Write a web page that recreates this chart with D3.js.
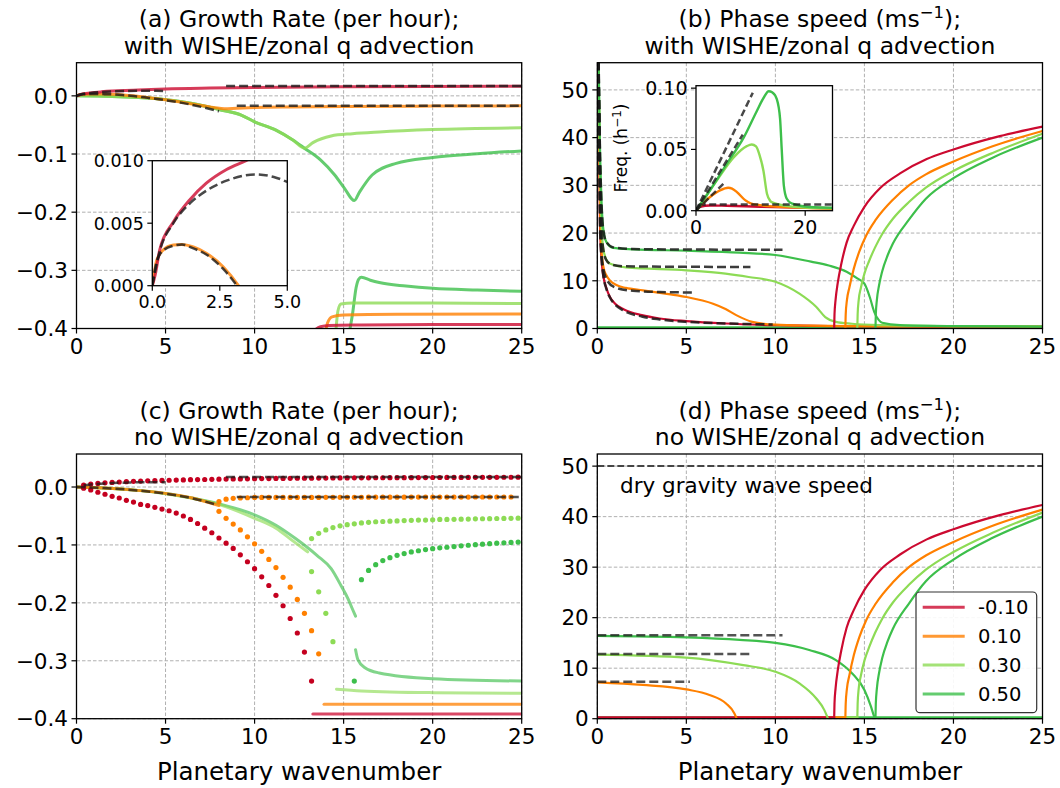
<!DOCTYPE html>
<html>
<head>
<meta charset="utf-8">
<script src="https://cdn.jsdelivr.net/npm/d3@7/dist/d3.min.js"></script>
<style>
  body { margin: 0; background: #fff; }
  svg { font-family: "DejaVu Sans", sans-serif; }
</style>
</head>
<body>
<div id="chart"></div>
<script>
// ---------- data ----------
var kTicks = [0, 5, 10, 15, 20, 25];
var growthTicks = [0, -0.1, -0.2, -0.3, -0.4];
var speedTicks = [0, 10, 20, 30, 40, 50];
var legendLabel = ["-0.10", "0.10", "0.30", "0.50"];
var colors = ["#cc0a30", "#ff8000", "#8ddb55", "#3dbf4b"];
var titles = [
  ["(a) Growth Rate (per hour);", "with WISHE/zonal q advection"],
  ["(b) Phase speed (ms^{\u22121});", "with WISHE/zonal q advection"],
  ["(c) Growth Rate (per hour);", "no WISHE/zonal q advection"],
  ["(d) Phase speed (ms^{\u22121});", "no WISHE/zonal q advection"]
];

// (a) growth rate, with WISHE  [wavenumber, 1/h]
var aRedUpper = [[0,0],[0.1,0.0008],[0.28,0.0029],[0.78,0.0051],[1.4,0.0069],[2,0.0082],[2.75,0.0093],[3.47,0.0100],[5,0.0118],[7.5,0.0133],[10,0.0143],[15,0.0155],[20,0.0162],[25,0.0167]];
var aOrangeUpper = [[0,0],[0.05,0.0007],[0.16,0.002],[0.4,0.00285],[0.78,0.00325],[1.09,0.0033],[1.52,0.0031],[2,0.0026],[2.63,0.0015],[3.19,0],[4,-0.003],[5,-0.0068],[6,-0.0115],[7,-0.0165],[7.8,-0.0205],[8.3,-0.022],[9,-0.0212],[10,-0.0202],[12,-0.0192],[15,-0.0183],[20,-0.0176],[25,-0.0172]];
var aLightUpper = [[0,0],[2,-0.001],[3.5,-0.003],[5,-0.0065],[6.5,-0.013],[8,-0.0235],[9.25,-0.033],[10,-0.0447],[11.2,-0.059],[12.15,-0.076],[12.8,-0.090],[13.3,-0.080],[14.3,-0.069],[15.5,-0.065],[17,-0.062],[20,-0.058],[25,-0.055]];
var aGreenUpper = [[0,0],[2,-0.001],[3.5,-0.003],[5,-0.0065],[6.5,-0.013],[8,-0.0235],[9.25,-0.033],[10,-0.0447],[11.2,-0.059],[12.15,-0.076],[12.8,-0.090],[13.7,-0.11],[14.5,-0.136],[15.05,-0.159],[15.6,-0.18],[15.9,-0.165],[16.6,-0.136],[17.95,-0.116],[20,-0.106],[22.5,-0.0995],[25,-0.0946]];
var aRedLower = [[13.4,-0.402],[13.7,-0.397],[14.2,-0.395],[16,-0.394],[20,-0.393],[25,-0.393]];
var aOrangeLower = [[13.95,-0.41],[14.1,-0.39],[14.35,-0.38],[15,-0.377],[18,-0.3755],[25,-0.375]];
var aLightLower = [[14.55,-0.41],[14.68,-0.37],[14.85,-0.358],[15.5,-0.356],[20,-0.356],[25,-0.357]];
var aGreenLower = [[15.3,-0.41],[15.5,-0.375],[15.7,-0.33],[15.85,-0.315],[16,-0.312],[16.5,-0.317],[17,-0.321],[18.5,-0.327],[20,-0.331],[22.5,-0.334],[25,-0.336]];
var aDashRedSmall = [[0,0],[0.28,0.0028],[0.78,0.005],[1.4,0.0066],[2,0.0076],[2.75,0.0084],[3.8,0.0089],[4.5,0.0087],[5,0.0083]];
var aDashRedFar = [[8.4,0.017],[25,0.017]];
var aDashOrange = [[0,0],[0.16,0.0019],[0.4,0.0028],[0.78,0.0032],[1.1,0.0033],[1.5,0.003],[2,0.0025],[2.6,0.0014],[3.2,-0.0002],[4,-0.0033],[5,-0.0075],[6,-0.0125],[7,-0.019],[8,-0.0265]];
var aDashOrangeFar = [[9,-0.017],[25,-0.017]];

// (b) phase speed, with WISHE  [wavenumber, m/s]
var bRed = [[0.06,56],[0.1,40],[0.15,22],[0.25,14],[0.34,11],[0.5,8.6],[0.71,6.6],[1,5.2],[1.5,4.0],[2.5,2.8],[3.5,2.1],[5,1.55],[7.2,1.05],[10,0.7],[13,0.5],[16,0.42],[25,0.38]];
var bOrange = [[0.06,56],[0.1,45],[0.13,33],[0.22,17],[0.35,12.8],[0.5,11.2],[0.75,9.9],[1.07,9.1],[1.6,8.5],[2.56,8.0],[4,7.2],[5,6.6],[6.5,5.2],[7.2,4.1],[7.8,2.8],[8.7,1.4],[10,0.8],[12,0.6],[14,0.5],[20,0.45],[25,0.4]];
var bLight = [[0.06,56],[0.1,47],[0.14,36],[0.2,26],[0.32,17.1],[0.5,14.5],[0.7,13.6],[1.6,12.8],[5,12.2],[7.2,11.5],[8.5,10.8],[10,9.8],[11.35,7.3],[12.3,4.5],[12.8,2.4],[13.4,1.4],[14.3,1.0],[16,0.7],[20,0.5],[25,0.4]];
var bGreen = [[0.06,56],[0.09,52.8],[0.13,42],[0.22,28.4],[0.32,21.4],[0.5,18.2],[0.88,16.9],[2,16.6],[5,16.3],[8,15.9],[10,15.4],[12,14.0],[13,13.2],[14,11.9],[14.6,10.5],[15,9.4],[15.3,6.6],[15.55,3.5],[15.8,1.8],[16,1.2],[17,0.7],[20,0.5],[25,0.4]];
var bZero = [[0,0.25],[25,0.25]];
var bDashRed = [[0.06,56],[0.1,40],[0.15,22],[0.25,14],[0.34,11],[0.5,8.4],[0.71,6.5],[1,5.0],[1.5,3.7],[2.5,2.5],[3.5,1.9],[5,1.4],[7.2,1.05],[9.85,0.85]];
var bDashOrange = [[0.06,56],[0.1,45],[0.13,33],[0.22,17],[0.35,12.3],[0.6,9.8],[1,8.6],[2,7.9],[3.5,7.65],[5.4,7.55]];
var bDashLight = [[0.06,56],[0.1,47],[0.14,36],[0.2,26],[0.32,17],[0.5,14.4],[0.8,13.4],[1.5,13.05],[4,12.95],[8.6,12.9]];
var bDashGreen = [[0.06,56],[0.09,52.5],[0.13,41.5],[0.22,28],[0.32,21.2],[0.5,18.2],[0.9,17],[2,16.65],[5,16.55],[10.4,16.5]];
// rising (fast) branches, same in (b) and (d)
var riseRed = [[13.3,0],[13.32,3],[13.38,6],[13.5,9.5],[13.7,13.5],[14,18],[14.4,21.5],[15,25.5],[15.9,29.5],[17,32.5],[18.5,35.5],[20,37.5],[22.6,40.3],[25,42.3]];
var riseOrange = [[13.93,0],[13.95,3],[14.02,6],[14.15,8.5],[14.4,12.5],[14.7,16],[15.1,19.5],[15.64,22.8],[16.6,27],[17.5,30],[18.45,32.3],[20,35],[22.2,38.2],[25,41.4]];
var riseLight = [[14.6,0],[14.62,3],[14.68,6],[14.8,8.5],[15,11.5],[15.27,14.2],[15.6,17],[16,19.8],[16.6,23],[17.5,26.5],[18.45,29.5],[20,33],[22.2,36.8],[25,40.8]];
var riseGreen = [[15.62,0],[15.64,3],[15.7,6],[15.82,9],[16,12],[16.3,15.3],[16.6,17.8],[17.5,22.8],[18.45,27.2],[20,31.5],[22.2,35.8],[25,40]];

// (b) inset: frequency [wavenumber, 1/h]
var fRed = [[0,0],[0.4,0.0025],[0.73,0.0032],[2.57,0.0043],[5.6,0.004],[11.7,0.0032],[25,0.002]];
var fOrange = [[0,0],[1,0.005],[2.57,0.0112],[4.4,0.0166],[5.9,0.0187],[6.6,0.018],[7.5,0.0152],[9,0.0086],[10,0.006],[11.7,0.0045],[17.9,0.0027],[25,0.0016]];
var fLight = [[0,0],[3.8,0.0246],[6.85,0.0433],[9.3,0.0527],[10.2,0.054],[11,0.0525],[11.6,0.046],[12.35,0.0326],[13,0.0139],[13.6,0.008],[14.2,0.0064],[17.9,0.0032],[25,0.0019]];
var fGreen = [[0,0],[2.57,0.0166],[5.6,0.038],[8.7,0.0594],[11.1,0.081],[12.5,0.093],[13.3,0.0975],[14,0.0965],[14.8,0.091],[15.4,0.075],[15.7,0.05],[16.1,0.02],[16.6,0.01],[17.5,0.006],[20.9,0.003],[25,0.0024]];
var fDashRed = [[0.5,0.0051],[25,0.0051]];
var fDashOrange = [[0,0],[5,0.0219]];
var fDashLight = [[0,0],[8.56,0.062]];
var fDashGreen = [[0,0],[10.4,0.0963]];

// (c) growth rate, no WISHE: dots every 0.4 in wavenumber
var dotStep = 0.4;
var cRedUpperStart = 0.4;
var cRedUpper = [0.0035,0.005,0.0062,0.0072,0.008,0.0087,0.0093,0.0098,0.0103,0.0107,0.011,0.0114,0.0117,0.012,0.0123,0.0126,0.0128,0.013,0.0133,0.0135,0.0137,0.0139,0.014,0.0142,0.0143,
  0.0145,0.0146,0.0148,0.0149,0.015,0.0151,0.0152,0.0153,0.0154,0.0155,
  0.0156,0.0157,0.0157,0.0158,0.0159,0.0159,0.016,0.016,0.0161,0.0161,0.0162,0.0162,0.0163,0.0163,0.0164,
  0.0164,0.0165,0.0165,0.0166,0.0166,0.0167,0.0167,0.0168,0.0168,0.0169,0.0169,0.017];
var cRedLowerStart = 0.4;
var cRedLower = [-0.002,-0.005,-0.009,-0.0125,-0.016,-0.019,-0.023,-0.026,-0.03,-0.032,-0.035,-0.038,-0.041,-0.045,-0.05,-0.056,-0.063,-0.071,-0.079,-0.088,-0.097,-0.106,-0.117,-0.129,-0.141,-0.155,-0.17,-0.187,-0.205,-0.227,-0.252,-0.285,-0.335];
var cOrangeUpperStart = 8.0;
var cOrangeUpper = [-0.025,-0.021,-0.0195,-0.019,-0.0185,
  -0.018,-0.018,-0.018,-0.018,-0.018,-0.018,-0.018,-0.018,-0.018,-0.018,
  -0.0178,-0.0178,-0.0178,-0.0177,-0.0177,-0.0177,-0.0176,-0.0176,-0.0176,-0.0175,-0.0175,-0.0175,-0.0174,-0.0174,
  -0.0174,-0.0174,-0.0173,-0.0173,-0.0173,-0.0173,-0.0173,-0.0172,-0.0172,-0.0172,-0.0172,-0.0172,-0.0172];
var cOrangeLowerStart = 8.0;
var cOrangeLower = [-0.042,-0.054,-0.064,-0.074,-0.086,-0.098,-0.111,-0.125,-0.139,-0.156,-0.173,-0.194,-0.218,-0.248,-0.288];
var cLightUpperStart = 13.2;
var cLightUpper = [-0.089,-0.080,-0.074,-0.070,-0.067,-0.065,-0.0635,-0.062,-0.061,-0.060,
  -0.0595,-0.059,-0.0585,-0.058,-0.0575,-0.057,-0.057,-0.0565,-0.056,-0.056,
  -0.0557,-0.0555,-0.0553,-0.055,-0.0548,-0.0546,-0.0544,-0.0542,-0.054,-0.0538];
var cLightLowerStart = 13.2;
var cLightLower = [-0.146,-0.181,-0.218,-0.267];
var cGreenUpperStart = 16.0;
var cGreenUpper = [-0.160,-0.144,-0.134,-0.127,-0.122,-0.118,-0.115,-0.112,-0.110,-0.108,-0.1065,-0.105,-0.104,-0.1028,-0.1016,-0.1005,-0.0995,-0.0986,-0.0978,-0.097,-0.0963,-0.0957,-0.095];
var cGreenLoneStart = 15.6;
var cGreenLone = [-0.335];
// (c) solid pieces
var cOrangeLine = [[0,0],[1.5,-0.0017],[3.44,-0.0058],[5,-0.011],[6.5,-0.019],[8,-0.032]];
var cLightLine = [[0,0],[1.5,-0.0017],[3.44,-0.0058],[5,-0.0116],[6.5,-0.0195],[8.1,-0.031],[10,-0.054],[11.2,-0.071],[12.15,-0.093],[12.98,-0.112]];
var cGreenLine = [[0,0],[1.5,-0.0017],[3.44,-0.0058],[5,-0.011],[6.5,-0.019],[8,-0.029],[10,-0.048],[11.2,-0.066],[12.3,-0.089],[13.5,-0.118],[14.3,-0.141],[14.85,-0.17],[15.25,-0.193],[15.5,-0.211],[15.67,-0.223]];
var cGreenLow = [[15.67,-0.281],[15.8,-0.298],[16.2,-0.312],[17,-0.321],[20,-0.331],[25,-0.335]];
var cLightLow = [[14.6,-0.349],[16,-0.352],[20,-0.355],[25,-0.356]];
var cOrangeLow = [[13.9,-0.375],[25,-0.375]];
var cRedLow = [[13.27,-0.392],[25,-0.392]];
var cDashRedSmall = [[0.4,0.003],[1,0.005],[2,0.0068],[3,0.0078],[4,0.0083],[5,0.0084]];
var cDashRedFar = [[8.4,0.0172],[25,0.0172]];
var cDashOrange = [[0,0],[1.5,-0.0017],[3.44,-0.006],[5,-0.0115],[6.5,-0.0195],[7.9,-0.031]];
var cDashOrangeFar = [[9,-0.0172],[25,-0.0172]];

// (d) phase speed, no WISHE
var dOrange = [[0,7.2],[2.56,6.7],[5,5.8],[6.3,4.7],[7.23,3.0],[7.7,1.05],[7.83,0]];
var dLight = [[0,12.7],[5,12.1],[8.2,10.6],[10,9.3],[11.35,7.0],[12.3,4.0],[12.75,1.7],[12.93,0.2],[12.95,0]];
var dGreen = [[0,16.4],[5,16.1],[8,15.6],[10,15.0],[11.9,13.6],[13.4,11.6],[14.3,9.0],[15,5.7],[15.37,2.4],[15.55,0.4],[15.6,0]];
var dZeroGreen = [[0,0.25],[25,0.25]];
var dZeroLight = [[12.9,0.25],[14.6,0.25]];
var dZeroOrange = [[7.8,0.25],[13.9,0.25]];
var dZeroRed = [[0,0.25],[13.3,0.25]];
var dDashGreen = [[0,16.5],[10.4,16.5]];
var dDashLight = [[0,12.8],[8.6,12.8]];
var dDashOrange = [[0,7.3],[5.2,7.3]];
var dDry = [[0,50],[25,50]];

// ---------- drawing ----------
var svg = d3.select("#chart").append("svg").attr("width", 1060).attr("height", 788);
var tickLen = 5, fs = 21.5, titleFs = 23.5, labelFs = 24.5;
var dashCol = "#1a1a1a";

function makePanel(id, box, xDom, yDom) {
  var p = { id: id, box: box };
  p.x = d3.scaleLinear().domain(xDom).range([box.l, box.r]);
  p.y = d3.scaleLinear().domain(yDom).range([box.b, box.t]);
  svg.append("clipPath").attr("id", "clip-" + id).append("rect")
    .attr("x", box.l).attr("y", box.t).attr("width", box.r - box.l).attr("height", box.b - box.t);
  p.g = svg.append("g");
  return p;
}

function drawGrid(p, xt, yt) {
  var g = p.g.append("g").attr("stroke", "#b0b0b0").attr("stroke-width", 1).attr("stroke-dasharray", "3.5,2");
  g.selectAll("line.gx").data(xt).enter().append("line").attr("class", "gx")
    .attr("x1", function (d) { return p.x(d); }).attr("x2", function (d) { return p.x(d); })
    .attr("y1", p.box.t).attr("y2", p.box.b);
  g.selectAll("line.gy").data(yt).enter().append("line").attr("class", "gy")
    .attr("y1", function (d) { return p.y(d); }).attr("y2", function (d) { return p.y(d); })
    .attr("x1", p.box.l).attr("x2", p.box.r);
}

function layer(p) {
  return p.g.append("g").attr("clip-path", "url(#clip-" + p.id + ")");
}

function addLine(p, L, data, color, w, op, dash) {
  var line = d3.line()
    .x(function (d) { return p.x(d[0]); })
    .y(function (d) { return p.y(d[1]); })
    .curve(d3.curveMonotoneX);
  L.append("path").datum(data).attr("d", line)
    .attr("fill", "none").attr("stroke", color).attr("stroke-width", w)
    .attr("stroke-opacity", op)
    .attr("stroke-dasharray", dash || null)
    .attr("stroke-linejoin", "round")
    .attr("stroke-linecap", dash ? "butt" : "round");
}

function addDots(p, L, start, values, color) {
  L.selectAll(null).data(values).enter().append("circle")
    .attr("cx", function (d, i) { return p.x(start + dotStep * i); })
    .attr("cy", function (d) { return p.y(d); })
    .attr("r", 2.6).attr("fill", color);
}

function drawAxes(p, xt, yt, xf, yf, size) {
  var g = p.g.append("g");
  g.append("rect").attr("x", p.box.l).attr("y", p.box.t)
    .attr("width", p.box.r - p.box.l).attr("height", p.box.b - p.box.t)
    .attr("fill", "none").attr("stroke", "#000").attr("stroke-width", 1.3);
  g.selectAll("line.tx").data(xt).enter().append("line").attr("class", "tx")
    .attr("x1", function (d) { return p.x(d); }).attr("x2", function (d) { return p.x(d); })
    .attr("y1", p.box.b).attr("y2", p.box.b + tickLen).attr("stroke", "#000").attr("stroke-width", 1.2);
  g.selectAll("text.lx").data(xt).enter().append("text").attr("class", "lx")
    .attr("x", function (d) { return p.x(d); }).attr("y", p.box.b + tickLen + 3.5)
    .attr("dy", "0.78em").attr("text-anchor", "middle").attr("font-size", size)
    .text(xf);
  g.selectAll("line.ty").data(yt).enter().append("line").attr("class", "ty")
    .attr("y1", function (d) { return p.y(d); }).attr("y2", function (d) { return p.y(d); })
    .attr("x1", p.box.l).attr("x2", p.box.l - tickLen).attr("stroke", "#000").attr("stroke-width", 1.2);
  g.selectAll("text.ly").data(yt).enter().append("text").attr("class", "ly")
    .attr("x", p.box.l - tickLen - 3.5).attr("y", function (d) { return p.y(d); })
    .attr("dy", "0.36em").attr("text-anchor", "end").attr("font-size", size)
    .text(yf);
}

function drawTitle(box, lines, base1) {
  var cx = (box.l + box.r) / 2;
  lines.forEach(function (s, i) {
    var t = svg.append("text").attr("x", cx).attr("y", base1 + i * 26.5)
      .attr("text-anchor", "middle").attr("font-size", titleFs);
    var m = s.match(/^(.*)\^\{(.*)\}(.*)$/);
    if (m) {
      t.append("tspan").text(m[1]);
      t.append("tspan").attr("dy", -9).attr("font-size", 16.5).text(m[2]);
      t.append("tspan").attr("dy", 9).text(m[3]);
    } else {
      t.text(s);
    }
  });
}

function inset(id, box, xDom, yDom) {
  svg.append("rect").attr("x", box.l).attr("y", box.t)
    .attr("width", box.r - box.l).attr("height", box.b - box.t).attr("fill", "#fff");
  return makePanel(id, box, xDom, yDom);
}

var fmtK = d3.format("d"), fmtG = d3.format(".1f"), fmtS = d3.format("d");

var boxA = { l: 76.5, r: 521.7, t: 62.7, b: 328.5 };
var boxB = { l: 597.3, r: 1042.5, t: 62.7, b: 328.5 };
var boxC = { l: 76.5, r: 521.7, t: 454, b: 718.7 };
var boxD = { l: 597.3, r: 1042.5, t: 454, b: 718.7 };

// ----- (a)
var pA = makePanel("a", boxA, [0, 25], [-0.4, 0.057]);
drawGrid(pA, kTicks, growthTicks);
var LA = layer(pA);
addLine(pA, LA, aGreenUpper, colors[3], 3, 0.8);
addLine(pA, LA, aLightUpper, colors[2], 3, 0.8);
addLine(pA, LA, aOrangeUpper, colors[1], 3, 0.8);
addLine(pA, LA, aRedUpper, colors[0], 3, 0.8);
addLine(pA, LA, aGreenLower, colors[3], 3, 0.8);
addLine(pA, LA, aLightLower, colors[2], 3, 0.8);
addLine(pA, LA, aOrangeLower, colors[1], 3, 0.8);
addLine(pA, LA, aRedLower, colors[0], 3, 0.8);
[aDashRedSmall, aDashRedFar, aDashOrange, aDashOrangeFar].forEach(function (d) {
  addLine(pA, LA, d, dashCol, 2.5, 0.8, "9,4");
});
drawAxes(pA, kTicks, growthTicks, fmtK, fmtG, fs);
drawTitle(boxA, titles[0], 27);

var pAi = inset("ai", { l: 152.3, r: 287.3, t: 160.7, b: 285.7 }, [0, 5], [0, 0.01]);
var LAi = layer(pAi);
addLine(pAi, LAi, aOrangeUpper, colors[1], 3, 0.8);
addLine(pAi, LAi, aRedUpper, colors[0], 3, 0.8);
addLine(pAi, LAi, aDashRedSmall, dashCol, 2.5, 0.8, "9,4");
addLine(pAi, LAi, aDashOrange, dashCol, 2.5, 0.8, "9,4");
drawAxes(pAi, [0, 2.5, 5], [0, 0.005, 0.01], d3.format(".1f"), d3.format(".3f"), 17.5);

// ----- (b)
var pB = makePanel("b", boxB, [0, 25], [0, 55.7]);
drawGrid(pB, kTicks, speedTicks);
var LB = layer(pB);
addLine(pB, LB, bZero, colors[3], 2.2, 1);
addLine(pB, LB, bRed, colors[0], 2.2, 1);
addLine(pB, LB, bOrange, colors[1], 2.2, 1);
addLine(pB, LB, bLight, colors[2], 2.2, 1);
addLine(pB, LB, bGreen, colors[3], 2.2, 1);
addLine(pB, LB, riseRed, colors[0], 2.2, 1);
addLine(pB, LB, riseOrange, colors[1], 2.2, 1);
addLine(pB, LB, riseLight, colors[2], 2.2, 1);
addLine(pB, LB, riseGreen, colors[3], 2.2, 1);
[bDashRed, bDashOrange, bDashLight, bDashGreen].forEach(function (d) {
  addLine(pB, LB, d, dashCol, 2.5, 0.85, "9,4");
});
drawAxes(pB, kTicks, speedTicks, fmtK, fmtS, fs);
drawTitle(boxB, titles[1], 27);

var pBi = inset("bi", { l: 696, r: 832.5, t: 85.7, b: 210.7 }, [0, 25], [0, 0.102]);
var LBi = layer(pBi);
addLine(pBi, LBi, fRed, colors[0], 2.4, 1);
addLine(pBi, LBi, fOrange, colors[1], 2.4, 1);
addLine(pBi, LBi, fLight, colors[2], 2.4, 1);
addLine(pBi, LBi, fGreen, colors[3], 2.4, 1);
[fDashRed, fDashOrange, fDashLight, fDashGreen].forEach(function (d) {
  addLine(pBi, LBi, d, dashCol, 2.5, 0.8, "7,3.5");
});
drawAxes(pBi, [0, 20], [0, 0.05, 0.1], d3.format("d"), d3.format(".2f"), 19);
var fl = svg.append("text").attr("transform", "translate(627,148) rotate(-90)")
  .attr("text-anchor", "middle").attr("font-size", 17);
fl.append("tspan").text("Freq. (h");
fl.append("tspan").attr("dy", -6).attr("font-size", 12).text("\u22121");
fl.append("tspan").attr("dy", 6).text(")");

// ----- (c)
var pC = makePanel("c", boxC, [0, 25], [-0.4, 0.057]);
drawGrid(pC, kTicks, growthTicks);
var LC = layer(pC);
addLine(pC, LC, cGreenLine, colors[3], 3, 0.65);
addLine(pC, LC, cLightLine, colors[2], 3, 0.65);
addLine(pC, LC, cOrangeLine, colors[1], 3, 0.8);
addLine(pC, LC, cGreenLow, colors[3], 3, 0.65);
addLine(pC, LC, cLightLow, colors[2], 3, 0.65);
addLine(pC, LC, cOrangeLow, colors[1], 3, 0.75);
addLine(pC, LC, cRedLow, colors[0], 3, 0.75);
addDots(pC, LC, cRedUpperStart, cRedUpper, "#c4001f");
addDots(pC, LC, cRedLowerStart, cRedLower, "#c4001f");
addDots(pC, LC, cOrangeUpperStart, cOrangeUpper, colors[1]);
addDots(pC, LC, cOrangeLowerStart, cOrangeLower, colors[1]);
addDots(pC, LC, cLightUpperStart, cLightUpper, colors[2]);
addDots(pC, LC, cLightLowerStart, cLightLower, colors[2]);
addDots(pC, LC, cGreenUpperStart, cGreenUpper, colors[3]);
addDots(pC, LC, cGreenLoneStart, cGreenLone, colors[3]);
[cDashRedSmall, cDashRedFar, cDashOrange, cDashOrangeFar].forEach(function (d) {
  addLine(pC, LC, d, dashCol, 2.5, 0.75, "9,4");
});
drawAxes(pC, kTicks, growthTicks, fmtK, fmtG, fs);
drawTitle(boxC, titles[2], 418.5);

// ----- (d)
var pD = makePanel("d", boxD, [0, 25], [0, 52.4]);
drawGrid(pD, kTicks, speedTicks);
var LD = layer(pD);
addLine(pD, LD, dZeroGreen, colors[3], 2.2, 1);
addLine(pD, LD, dZeroLight, colors[2], 2.2, 1);
addLine(pD, LD, dZeroOrange, colors[1], 2.2, 1);
addLine(pD, LD, dZeroRed, colors[0], 2.2, 1);
addLine(pD, LD, dOrange, colors[1], 2.2, 1);
addLine(pD, LD, dLight, colors[2], 2.2, 1);
addLine(pD, LD, dGreen, colors[3], 2.2, 1);
addLine(pD, LD, riseRed, colors[0], 2.2, 1);
addLine(pD, LD, riseOrange, colors[1], 2.2, 1);
addLine(pD, LD, riseLight, colors[2], 2.2, 1);
addLine(pD, LD, riseGreen, colors[3], 2.2, 1);
[dDashGreen, dDashLight, dDashOrange].forEach(function (d) {
  addLine(pD, LD, d, dashCol, 2.5, 0.75, "9,4");
});
addLine(pD, LD, dDry, "#333", 2, 0.9, "7,3");
drawAxes(pD, kTicks, speedTicks, fmtK, fmtS, fs);
drawTitle(boxD, titles[3], 418.5);
svg.append("text").attr("x", 620).attr("y", 493).attr("font-size", fs).text("dry gravity wave speed");

// x labels
[boxC, boxD].forEach(function (b) {
  svg.append("text").attr("x", (b.l + b.r) / 2).attr("y", 780)
    .attr("text-anchor", "middle").attr("font-size", labelFs).text("Planetary wavenumber");
});

// legend
var lg = svg.append("g");
lg.append("rect").attr("x", 916).attr("y", 592).attr("width", 120.7).attr("height", 120.7)
  .attr("rx", 4).attr("fill", "#fff").attr("fill-opacity", 0.9)
  .attr("stroke", "#333").attr("stroke-width", 1.2);
var item = lg.selectAll(".legend").data(legendLabel).enter().append("g").attr("class", "legend");
item.append("line")
  .attr("x1", 922.7).attr("x2", 964.7)
  .attr("y1", function (d, i) { return 607.3 + i * 28.9; })
  .attr("y2", function (d, i) { return 607.3 + i * 28.9; })
  .attr("stroke", function (d, i) { return colors[i]; })
  .attr("stroke-width", 3).attr("stroke-opacity", 0.8);
item.append("text")
  .attr("x", 978).attr("y", function (d, i) { return 607.3 + i * 28.9; })
  .attr("dy", "0.36em").attr("font-size", 19.5)
  .text(function (d) { return d; });
</script>
</body>
</html>
